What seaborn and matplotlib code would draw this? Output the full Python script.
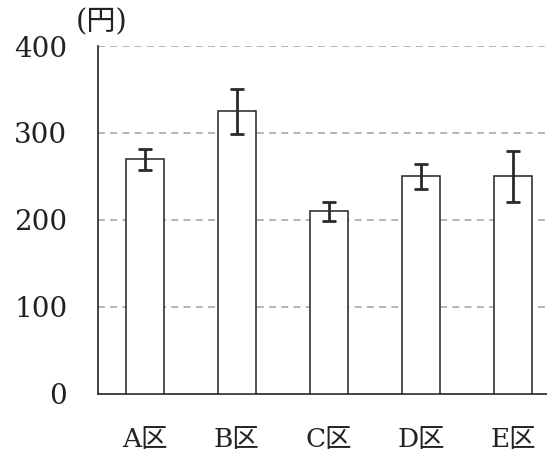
import matplotlib
matplotlib.use("Agg")
import matplotlib.pyplot as plt
import seaborn as sns
import pandas as pd

# Average price per district, with error ranges
districts = ["A区", "B区", "C区", "D区", "E区"]
prices = [270, 325, 210, 250, 250]
errors = [12, 26, 11, 14, 29]
yticks = [0, 100, 200, 300, 400]
unit_label = "(円)"

sns.set_style("white")
plt.rcParams["font.family"] = ["DejaVu Serif", "Noto Sans CJK JP"]

df = pd.DataFrame({"district": districts, "price": prices})

fig = plt.figure(figsize=(5.47, 4.65), dpi=100)
ax = fig.add_axes([0.179, 0.153, 0.821, 0.748])

sns.barplot(data=df, x="district", y="price", ax=ax, color="white",
            edgecolor="#222222", linewidth=1.1, width=0.41, errorbar=None, zorder=3)
ax.errorbar(range(len(districts)), prices, yerr=errors, fmt="none",
            ecolor="#2a2a2a", elinewidth=2.0, capsize=5, capthick=2.0, zorder=4)

ax.set_ylim(0, 400)
ax.set_xlim(-0.51, 4.37)
ax.set_yticks(yticks)
ax.set_yticklabels([str(t) for t in yticks])
for t in yticks[1:]:
    ax.axhline(t, color="#a0a0a0", linestyle=(0, (4.5, 3.5)), linewidth=1.1, zorder=1)

ax.set_xlabel("")
ax.set_ylabel("")
for side in ["top", "right"]:
    ax.spines[side].set_visible(False)
for side in ["left", "bottom"]:
    ax.spines[side].set_color("#222222")
    ax.spines[side].set_linewidth(1.2)

ax.tick_params(axis="y", length=0, pad=22, labelsize=20, colors="#222222")
ax.tick_params(axis="x", length=0, pad=24, labelsize=19, colors="#222222")

fig.text(0.186, 0.952, unit_label, fontsize=21, ha="center", va="center", color="#222222")

fig.savefig("out.png", dpi=100)
